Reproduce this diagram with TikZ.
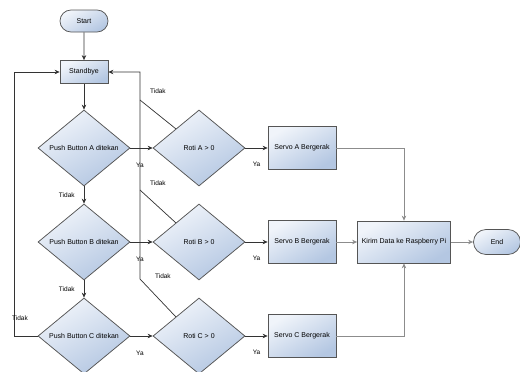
\documentclass[tikz,border=0pt]{standalone}
\usepackage{fontspec}
\setmainfont{Liberation Sans}
\usetikzlibrary{shapes.geometric,shapes.misc,arrows.meta}
\definecolor{bord}{HTML}{555555}
\definecolor{lnk}{HTML}{333333}
\definecolor{glnk}{HTML}{8C8C8C}
\definecolor{fillA}{HTML}{F0F4FA}
\definecolor{fillB}{HTML}{B4C7E2}
\tikzset{
  base/.style={draw=bord, line width=0.75pt, shading=axis, top color=fillA, bottom color=fillB, shading angle=30, font=\fontsize{7}{8}\selectfont, text=black, inner sep=0pt},
  term/.style={base, rounded rectangle, minimum width=48pt, minimum height=22pt},
  proc/.style={base, rectangle, minimum width=68pt, minimum height=43pt},
  wide/.style={base, rectangle, minimum width=93pt, minimum height=42pt},
  dec/.style={base, diamond, minimum width=92pt, minimum height=76pt},
  conn/.style={draw=lnk, line width=0.7pt, -{Stealth[length=5pt,width=4.5pt]}},
  plain/.style={draw=lnk, line width=0.7pt},
  gconn/.style={draw=glnk, line width=0.9pt, -{Stealth[length=5pt,width=4.5pt]}},
  lbl/.style={font=\fontsize{6.5}{7}\selectfont, text=black, inner sep=0pt}
}
\begin{document}
\begin{tikzpicture}[x=1pt,y=-1pt]
\useasboundingbox (0,0) rectangle (520,372);
\node[term] (start) at (84,21) {Start};
\node[base, rectangle, minimum width=48pt, minimum height=23pt] (stand) at (84,72) {Standbye};
\node[dec] (pa) at (84,148) {Push Button A ditekan};
\node[dec] (pb) at (84,242) {Push Button B ditekan};
\node[dec] (pc) at (84,336) {Push Button C ditekan};
\node[dec] (ra) at (199,148) {Roti A > 0};
\node[dec] (rb) at (199,242) {Roti B > 0};
\node[dec] (rc) at (199,336) {Roti C > 0};
\node[proc] (sa) at (302,148) {Servo A Bergerak};
\node[proc] (sb) at (302,242) {Servo B Bergerak};
\node[proc] (sc) at (302,336) {Servo C Bergerak};
\node[wide] (kirim) at (404,242) {Kirim Data ke Raspberry Pi};
\node[term, minimum width=47pt, minimum height=25pt] (end) at (497,242) {End};
\coordinate (ja) at (140,100);
\coordinate (jb) at (140,190);
\coordinate (jc) at (140,279);
\coordinate (jtop) at (140,72);
\coordinate (lft) at (14,336);

\draw[conn] (start) -- (stand);
\draw[conn] (stand) -- (pa);
\draw[conn] (pa) -- (ra) node[lbl, pos=0.43, yshift=-17pt] {Ya};
\draw[conn] (pb) -- (rb) node[lbl, pos=0.43, yshift=-17pt] {Ya};
\draw[conn] (pc) -- (rc) node[lbl, pos=0.43, yshift=-17pt] {Ya};
\draw[conn] (pa) -- (pb) node[lbl, midway, anchor=east, xshift=-9pt] {Tidak};
\draw[conn] (pb) -- (pc) node[lbl, midway, anchor=east, xshift=-9pt] {Tidak};
\draw[conn] (pc.west) -- (lft) node[lbl, pos=1, yshift=18pt, xshift=6pt] {Tidak} |- (stand.west);

\draw[plain] (ra.north west) -- (ja) node[lbl, pos=0.5, yshift=23pt] {Tidak};
\draw[plain] (rb.north west) -- (jb) node[lbl, pos=0.5, yshift=23pt] {Tidak};
\draw[conn] (rc.north west) -- (jc) node[lbl, pos=0.5, xshift=5pt, yshift=22pt] {Tidak} -- (jtop) -- (stand.east);

\draw[conn] (ra) -- (sa) node[lbl, pos=0.5, yshift=-16pt] {Ya};
\draw[conn] (rb) -- (sb) node[lbl, pos=0.5, yshift=-16pt] {Ya};
\draw[conn] (rc) -- (sc) node[lbl, pos=0.5, yshift=-16pt] {Ya};

\draw[gconn] (sa.east) -| (kirim.north);
\draw[gconn] (sb) -- (kirim);
\draw[gconn] (sc.east) -| (kirim.south);
\draw[gconn] (kirim) -- (end);
\end{tikzpicture}
\end{document}
